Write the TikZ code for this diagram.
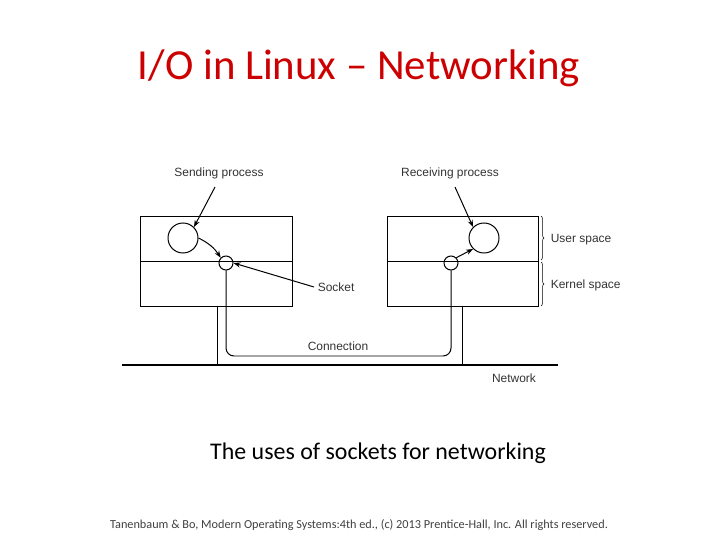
\documentclass[tikz,border=0pt]{standalone}
\usepackage{fontspec}
\setmainfont{Carlito}
\newfontfamily\figfont{Liberation Sans}
\usetikzlibrary{arrows.meta,decorations.pathreplacing}
\definecolor{titlered}{RGB}{204,0,0}

\begin{document}
\begin{tikzpicture}[
  x=1bp, y=-1bp,
  line width=1pt,
  lbl/.style={font=\figfont\fontsize{12}{14}\selectfont, text=black!80},
  proc/.style={draw, circle, minimum size=30bp, inner sep=0pt},
  sock/.style={draw, circle, minimum size=14bp, inner sep=0pt},
  arr/.style={-{Stealth[length=7pt]}}
]
\useasboundingbox (0,0) rectangle (720,540);

\node[font=\fontsize{43}{50}\selectfont, text=titlered] (title) at (359,68) {I/O in Linux -- Networking};

% machines
\draw (140,216) rectangle (292,306);
\draw (140,261) -- (292,261);
\draw (387,216) rectangle (538,306);
\draw (387,261) -- (538,261);

% network
\coordinate (netl) at (122,365);
\coordinate (netr) at (558,365);
\draw[line width=1.3pt] (netl) -- (netr);
\draw (217,306) -- (217,365);
\draw (462,306) -- (462,365);

\node[proc] (send) at (183,238) {};
\node[sock] (ls) at (226,263) {};
\node[proc] (recv) at (484,238) {};
\node[sock] (rs) at (451,263) {};

\draw[rounded corners=8bp] (ls.south) -- (226,356) -- (451,356) -- (rs.south);
\node[lbl] (conn) at (338,346) {Connection};

\node[lbl] (sendl) at (219,173) {Sending process};
\node[lbl] (recvl) at (450,173) {Receiving process};
\node[lbl, anchor=west] (sockl) at (314,287) {Socket};
\node[lbl] (netlbl) at (514,378) {Network};

\draw[arr] (215,187) -- (send.north east);
\draw[arr] (455,187) -- (recv.north west);
\draw[arr] (sockl.west) -- (ls.east);
\draw[arr] (send.east) to[bend left=15] (ls.north west);
\draw[arr] (rs.north east) -- (recv.south west);

% braces
\draw[line width=0.5pt, decorate, decoration={brace, amplitude=3pt}] (541,216) -- (541,260);
\draw[line width=0.5pt, decorate, decoration={brace, amplitude=3pt}] (541,262) -- (541,306);
\node[lbl, anchor=west] (user) at (547,240) {User space};
\node[lbl, anchor=west] (kern) at (547,285) {Kernel space};

\node[font=\fontsize{24}{28}\selectfont] (cap) at (378,453) {The uses of sockets for networking};
\node[font=\fontsize{12.3}{14}\selectfont, text=black!75] (foot) at (359,525) {Tanenbaum \& Bo, Modern  Operating Systems:4th ed., (c) 2013 Prentice-Hall, Inc. All rights reserved.};
\end{tikzpicture}
\end{document}
